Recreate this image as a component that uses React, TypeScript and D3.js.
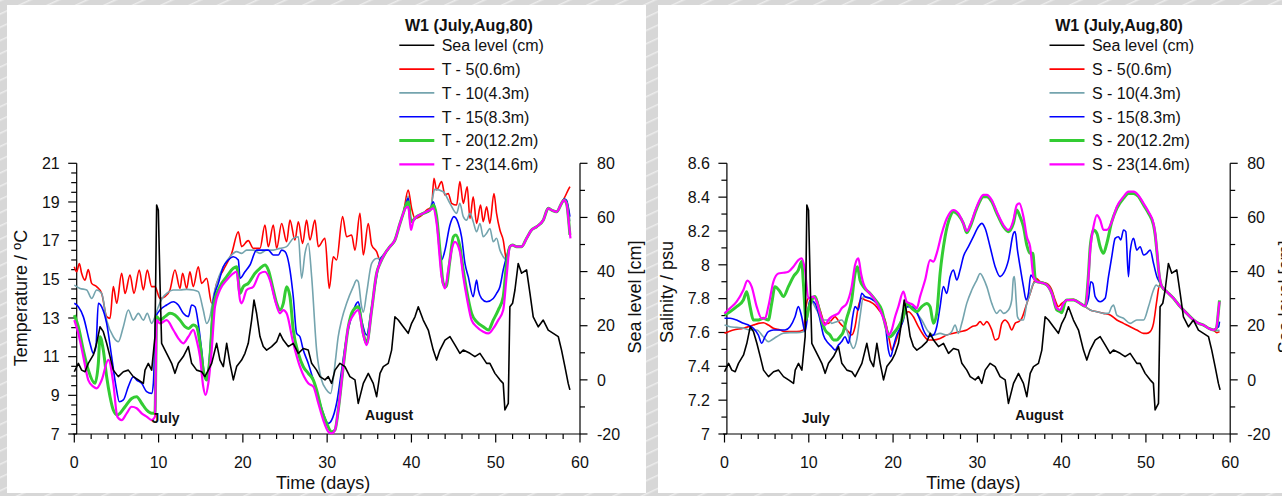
import React from "react";
import * as d3 from "d3";

type Pt = [number, number];

// ---------- axis ticks / labels ----------
const timeTicks = [0, 10, 20, 30, 40, 50, 60];
const timeMinorStep = 2;
const seaLevelTicks = [-20, 0, 20, 40, 60, 80];
const seaLevelMinorStep = 10;
const tempTicks = [7, 9, 11, 13, 15, 17, 19, 21];
const tempMinorStep = 0.5;
const salTicks = [7, 7.2, 7.4, 7.6, 7.8, 8, 8.2, 8.4, 8.6];
const salMinorStep = 0.1;

const legendTitle = "W1 (July,Aug,80)";
const seaLevelLabel = "Sea level (cm)";
const tempLabels = ["T - 5(0.6m)", "T - 10(4.3m)", "T - 15(8.3m)", "T - 20(12.2m)", "T - 23(14.6m)"];
const salLabels = ["S - 5(0.6m)", "S - 10(4.3m)", "S - 15(8.3m)", "S - 20(12.2m)", "S - 23(14.6m)"];
const monthLabels = ["July", "August"];
const monthDays = [9.17, 34.5];

// ---------- data: [day, value] ----------
const seaLevel: Pt[] = [[0,3.0],[0.48,6.1],[0.87,3.6],[1.27,3.0],[1.66,6.1],[2.26,9.2],[2.65,13.5],[3.05,19.6],[3.44,17.8],[3.84,13.5],[4.24,8.6],[4.63,3.6],[5.22,1.2],[5.82,3.0],[6.41,3.6],[7.0,1.2],[7.6,0],[8.19,-1.3],[8.39,3.6],[8.78,6.1],[9.18,3.6],[9.57,16.0],[9.77,64.6],[9.97,62.7],[10.17,35.7],[10.36,13.5],[10.76,11.0],[11.15,8.6],[11.55,6.1],[11.94,2.4],[12.34,6.1],[12.93,8.6],[13.53,12.3],[13.92,6.1],[14.52,3.6],[15.11,3.0],[15.5,1.2],[15.9,3.6],[16.3,6.1],[16.89,13.5],[17.28,7.3],[17.68,4.9],[18.08,13.5],[18.47,6.1],[18.87,0],[19.26,4.9],[19.85,7.3],[20.25,9.8],[20.64,13.5],[21.04,22.1],[21.32,29.5],[21.63,24.6],[22.03,16.0],[22.42,12.3],[22.82,11.0],[23.41,12.3],[24.01,14.1],[24.4,17.2],[24.8,14.7],[25.39,12.3],[25.98,13.5],[26.58,9.8],[27.17,11.6],[27.76,11.0],[28.16,6.1],[28.75,3.6],[29.15,1.2],[29.74,0],[30.13,1.2],[30.53,-1.3],[30.93,3.6],[31.52,6.1],[32.11,4.9],[32.7,1.2],[33.3,0],[33.69,-8.7],[34.29,-1.3],[34.88,2.4],[35.47,-1.3],[35.87,-6.2],[36.27,2.4],[36.66,4.9],[37.25,6.1],[37.65,11.0],[38.04,23.3],[38.44,22.1],[39.03,19.6],[39.62,17.2],[40.02,20.9],[40.42,23.3],[40.81,27.0],[41.4,22.1],[42.0,18.4],[42.59,11.0],[42.99,7.3],[43.38,11.0],[43.98,14.7],[44.57,16.0],[45.16,12.9],[45.75,9.8],[46.15,11.0],[46.94,9.8],[47.53,8.6],[48.13,9.8],[48.92,6.1],[49.31,6.1],[49.91,2.4],[50.5,0],[50.89,-1.3],[51.09,-11.1],[51.49,-8.7],[51.68,27.0],[52.0,28.3],[52.28,33.2],[52.67,43.0],[53.07,39.4],[53.66,40.6],[54.06,32.0],[54.45,23.3],[55.05,19.6],[55.64,22.1],[56.23,18.4],[56.83,17.2],[57.42,16.0],[57.81,11.0],[58.21,4.9],[58.6,-1.3],[58.8,-3.7]];

const tempT5: Pt[] = [[0,15.65],[0.28,15.39],[0.6,15.82],[0.87,15.31],[1.27,14.96],[1.66,15.5],[2.06,14.79],[2.65,14.62],[3.25,14.27],[3.84,13.07],[4.24,12.98],[4.63,14.62],[5.03,13.76],[5.62,15.31],[6.02,14.27],[6.61,15.22],[7.08,14.27],[7.71,15.48],[8.19,14.45],[8.66,15.48],[9.18,14.62],[9.57,14.62],[10.17,14.01],[10.76,14.1],[11.35,14.45],[11.94,15.48],[12.54,14.53],[12.85,15.31],[13.33,14.53],[13.72,15.39],[14.11,14.62],[14.71,15.65],[15.11,14.79],[15.7,15.05],[16.3,13.76],[16.89,14.79],[17.68,15.48],[18.67,16.34],[19.46,17.46],[19.85,16.69],[20.64,17.0],[21.24,16.6],[22.03,16.6],[22.62,17.81],[23.02,16.69],[23.61,17.81],[24.01,16.6],[24.6,17.89],[25.19,16.94],[25.59,18.06],[26.18,17.03],[26.58,17.98],[27.09,16.86],[27.56,18.06],[27.96,17.03],[28.55,18.06],[28.95,16.69],[29.74,17.12],[30.25,14.53],[30.73,16.17],[31.12,16.0],[31.83,18.24],[32.31,17.2],[32.9,17.29],[33.3,16.51],[33.89,18.41],[34.29,16.26],[34.88,17.89],[35.28,16.77],[35.87,16.43],[36.27,16.0],[36.86,16.34],[37.45,16.69],[38.04,17.03],[38.64,17.89],[39.03,18.41],[39.62,19.62],[40.02,18.67],[40.42,18.15],[41.01,18.24],[41.8,18.58],[42.39,18.75],[42.67,20.22],[42.99,19.62],[43.58,20.05],[43.98,19.36],[44.37,19.44],[44.77,18.93],[45.36,18.84],[45.75,20.05],[46.15,18.93],[46.62,19.79],[46.94,18.15],[47.33,19.27],[47.73,17.89],[48.2,18.84],[48.52,17.98],[48.92,18.75],[49.31,17.89],[49.79,19.44],[50.1,18.41],[50.5,17.55],[50.89,17.03],[51.29,16.0],[51.68,16.69],[52.0,16.77],[52.47,16.69],[53.07,16.69],[53.66,17.12],[54.25,17.55],[54.85,17.72],[55.64,18.06],[56.23,18.67],[56.63,18.58],[57.22,18.49],[57.81,18.93],[58.21,19.27],[58.6,19.62],[58.8,19.79]];

const tempT10: Pt[] = [[0,14.7],[0.68,14.53],[1.47,14.45],[2.06,14.01],[2.65,14.45],[3.25,14.27],[3.84,12.89],[4.63,12.03],[5.22,11.77],[5.82,12.55],[6.41,13.41],[7.0,12.89],[7.6,13.24],[8.19,12.89],[8.66,13.24],[9.18,12.72],[9.57,13.07],[9.97,13.58],[10.56,14.1],[10.96,14.27],[11.75,14.45],[12.54,14.45],[13.33,14.48],[14.11,14.45],[14.71,14.36],[15.3,13.41],[15.7,12.72],[16.1,13.07],[16.5,14.1],[16.89,14.79],[17.68,15.65],[18.47,16.17],[19.26,16.43],[19.85,16.34],[20.45,16.51],[21.24,16.51],[22.03,16.34],[22.82,16.51],[23.61,16.51],[24.4,16.6],[25.19,16.69],[25.98,17.12],[26.58,17.2],[26.97,15.05],[27.37,16.34],[27.76,16.86],[28.16,15.14],[28.75,11.34],[29.34,9.79],[29.94,9.28],[30.41,9.1],[30.93,10.6],[31.3,12.0],[31.72,12.9],[32.31,13.76],[33.1,14.62],[33.49,14.96],[33.69,14.88],[34.09,13.58],[34.29,13.3],[34.68,14.27],[35.28,15.82],[35.87,16.08],[36.27,16.08],[36.86,16.34],[37.45,16.69],[38.04,17.03],[38.64,17.89],[39.03,18.41],[39.35,18.9],[39.62,19.3],[39.94,18.1],[40.22,18.06],[40.62,18.24],[41.4,18.41],[42.2,18.58],[42.5,19.2],[42.75,19.65],[43.78,19.53],[44.57,18.93],[45.36,18.41],[45.75,18.93],[46.15,18.24],[46.54,18.06],[46.94,18.41],[47.33,17.98],[47.73,17.46],[48.13,17.89],[48.52,17.2],[48.92,17.38],[49.31,17.63],[49.71,16.94],[50.1,17.12],[50.5,16.51],[50.89,16.17],[51.29,16.0],[51.68,16.69],[52.0,16.77],[52.47,16.69],[53.07,16.69],[53.66,17.12],[54.25,17.55],[54.85,17.72],[55.64,18.06],[56.23,18.67],[56.63,18.58],[57.22,18.49],[57.81,18.93],[58.09,19.15],[58.4,19.0],[58.72,18.3],[58.8,18.0]];

const tempT15: Pt[] = [[0,13.76],[0.48,13.58],[1.07,13.07],[1.86,11.69],[2.26,11.17],[2.57,11.52],[2.85,13.76],[3.25,13.58],[3.84,12.72],[4.43,11.0],[4.95,9.45],[5.34,8.67],[5.82,8.76],[6.41,9.45],[7.0,9.96],[7.4,9.79],[7.99,9.62],[8.58,9.19],[9.18,9.1],[9.38,9.62],[9.69,13.07],[10.17,13.41],[10.96,13.67],[11.75,13.84],[12.34,13.67],[12.93,13.24],[13.53,13.07],[13.92,13.67],[14.32,13.58],[14.71,12.72],[15.11,11.34],[15.5,9.96],[15.78,9.96],[16.1,11.34],[16.5,13.93],[17.09,14.79],[17.68,15.65],[18.27,16.0],[18.87,16.17],[19.46,16.0],[19.66,15.05],[20.25,15.39],[20.84,15.74],[21.63,16.51],[22.42,16.51],[23.02,16.51],[23.61,16.26],[24.21,16.26],[24.6,16.51],[25.0,16.43],[25.59,15.48],[25.98,14.1],[26.38,12.2],[26.77,12.03],[27.17,11.34],[27.76,10.65],[28.36,9.79],[28.95,8.93],[29.54,8.07],[30.13,7.55],[30.53,7.72],[31.12,8.59],[31.72,10.31],[32.31,12.03],[32.9,13.07],[33.49,13.76],[33.69,13.84],[34.09,12.89],[34.68,12.12],[35.28,13.58],[35.87,15.14],[36.27,16.0],[36.86,16.34],[37.45,16.69],[38.04,17.03],[38.64,17.89],[39.03,18.41],[39.35,18.9],[39.62,19.19],[39.94,18.06],[40.22,18.06],[40.62,18.24],[41.4,18.41],[42.2,18.58],[42.59,19.01],[42.99,18.24],[43.58,16.0],[43.98,16.51],[44.57,17.81],[45.04,18.24],[45.56,17.89],[45.95,17.2],[46.35,15.82],[46.74,15.14],[47.33,14.1],[47.73,14.96],[47.93,14.45],[48.32,14.01],[48.92,13.84],[49.71,14.01],[50.1,14.27],[50.5,14.62],[50.89,15.48],[51.29,16.17],[51.68,16.69],[52.0,16.77],[52.47,16.69],[53.07,16.69],[53.66,17.12],[54.25,17.55],[54.85,17.72],[55.64,18.06],[56.23,18.67],[56.63,18.58],[57.22,18.49],[57.81,18.93],[58.09,19.15],[58.4,19.1],[58.8,18.24]];

const tempT20: Pt[] = [[0,13.15],[0.48,12.55],[1.07,11.34],[1.66,10.31],[2.45,9.62],[2.85,10.65],[3.05,12.03],[3.44,11.34],[3.84,9.96],[4.24,8.93],[4.63,8.24],[5.1,7.98],[5.42,8.07],[6.02,8.41],[6.81,8.84],[7.4,8.93],[7.99,8.59],[8.58,8.24],[9.18,8.07],[9.57,8.07],[9.77,13.07],[10.17,12.89],[10.76,13.07],[11.35,13.24],[11.94,13.15],[12.54,12.89],[13.13,12.55],[13.53,12.46],[14.12,12.64],[14.51,12.55],[14.91,11.69],[15.3,10.31],[15.7,9.79],[16.1,11.0],[16.5,13.58],[17.28,14.62],[18.08,15.14],[18.87,15.57],[19.26,15.65],[19.66,14.27],[20.05,14.62],[20.64,14.79],[21.44,15.31],[22.03,15.57],[22.62,15.74],[23.02,15.48],[23.61,14.45],[24.01,13.76],[24.4,13.41],[24.8,13.76],[25.19,14.62],[25.59,14.1],[25.98,12.38],[26.58,11.17],[27.17,10.48],[27.76,10.14],[28.36,9.79],[28.75,9.28],[29.34,8.24],[29.94,7.55],[30.53,7.12],[30.93,7.21],[31.32,8.24],[31.91,10.48],[32.51,12.55],[33.1,13.41],[33.69,13.58],[34.29,12.2],[34.68,11.69],[35.28,13.41],[35.87,15.31],[36.27,15.82],[36.86,16.34],[37.45,16.69],[38.04,17.03],[38.64,17.89],[39.03,18.41],[39.35,18.84],[39.62,19.0],[39.94,17.98],[40.22,18.06],[40.62,18.24],[41.4,18.41],[42.2,18.58],[42.59,18.84],[42.99,18.24],[43.38,16.51],[43.78,14.79],[44.1,14.62],[44.57,16.0],[44.97,17.2],[45.28,17.29],[45.75,16.69],[46.15,15.48],[46.54,14.45],[47.14,13.24],[47.73,12.81],[48.52,12.55],[49.12,12.38],[49.71,12.89],[50.3,13.41],[50.89,14.1],[51.29,15.82],[51.68,16.69],[52.0,16.77],[52.47,16.69],[53.07,16.69],[53.66,17.12],[54.25,17.55],[54.85,17.72],[55.64,18.06],[56.23,18.67],[56.63,18.58],[57.22,18.49],[57.81,18.93],[58.09,19.1],[58.4,18.93],[58.72,17.72],[58.8,17.3]];

const tempT23: Pt[] = [[0,12.89],[0.48,12.2],[1.07,11.0],[1.66,9.79],[2.26,9.45],[2.65,9.36],[3.25,9.79],[4.04,10.83],[4.63,9.62],[5.1,7.9],[5.62,7.72],[6.21,8.07],[6.81,8.41],[7.4,8.33],[7.99,8.07],[8.58,7.9],[9.18,7.72],[9.57,7.9],[9.77,12.89],[10.17,12.72],[10.96,12.89],[11.75,12.38],[12.34,11.95],[12.93,11.69],[13.53,12.03],[14.12,12.38],[14.51,11.86],[14.91,11.0],[15.3,9.45],[15.58,9.02],[15.9,9.62],[16.3,11.34],[16.69,13.58],[17.28,14.45],[18.08,14.96],[18.87,15.31],[19.26,15.39],[19.66,13.93],[19.85,13.76],[20.45,14.45],[21.24,14.62],[22.03,15.31],[22.62,15.39],[23.21,14.96],[23.81,13.93],[24.4,13.24],[24.8,13.41],[25.19,13.24],[25.98,11.69],[26.77,10.48],[27.76,9.62],[28.36,9.45],[28.95,8.59],[29.54,7.72],[30.13,7.12],[30.53,7.03],[30.93,7.21],[31.32,8.24],[31.91,10.48],[32.51,12.55],[33.1,13.15],[33.69,13.41],[34.29,12.12],[34.68,11.6],[35.28,13.41],[35.87,15.31],[36.27,15.82],[36.86,16.34],[37.45,16.69],[38.04,17.03],[38.64,17.89],[39.03,18.41],[39.35,18.7],[39.62,18.75],[39.94,17.55],[40.22,18.0],[40.62,18.24],[41.4,18.41],[42.2,18.58],[42.59,18.67],[42.99,17.89],[43.58,15.14],[43.98,14.53],[44.37,15.48],[44.77,16.51],[45.16,16.94],[45.75,16.43],[46.15,15.14],[46.62,13.93],[47.14,12.89],[47.73,12.55],[48.52,12.29],[49.12,12.2],[49.71,12.46],[50.3,12.89],[50.89,13.41],[51.29,15.14],[51.68,16.69],[52.0,16.77],[52.47,16.69],[53.07,16.69],[53.66,17.12],[54.25,17.55],[54.85,17.72],[55.64,18.06],[56.23,18.67],[56.63,18.58],[57.22,18.49],[57.81,18.93],[58.09,19.1],[58.4,18.93],[58.72,17.72],[58.87,17.12]];

const salS5: Pt[] = [[0,7.595],[1.05,7.615],[2.24,7.625],[3.42,7.644],[4.02,7.654],[4.61,7.658],[5.2,7.644],[5.8,7.625],[6.59,7.615],[7.18,7.605],[7.77,7.605],[8.57,7.605],[9.36,7.615],[9.67,7.753],[9.95,7.802],[10.74,7.812],[11.34,7.733],[11.93,7.654],[12.32,7.654],[12.72,7.674],[13.12,7.693],[13.31,7.684],[13.71,7.654],[14.1,7.634],[14.7,7.605],[15.09,7.585],[15.49,7.634],[15.88,7.753],[16.28,7.802],[16.68,7.792],[17.27,7.782],[17.86,7.762],[18.46,7.723],[19.05,7.674],[19.64,7.536],[19.84,7.496],[20.24,7.536],[20.63,7.595],[21.03,7.654],[21.42,7.713],[21.82,7.723],[22.41,7.693],[23.0,7.634],[23.6,7.585],[24.19,7.556],[24.79,7.556],[25.58,7.565],[26.37,7.585],[27.16,7.595],[27.95,7.605],[28.74,7.615],[29.34,7.634],[29.93,7.644],[30.33,7.664],[30.72,7.644],[31.12,7.664],[31.71,7.615],[32.11,7.556],[32.5,7.565],[32.9,7.654],[33.29,7.674],[33.69,7.654],[34.08,7.615],[34.48,7.654],[34.88,7.664],[35.27,7.684],[35.87,7.772],[36.26,7.831],[36.66,7.89],[36.97,7.92],[37.45,7.9],[38.24,7.89],[38.84,7.851],[39.23,7.792],[39.62,7.753],[40.02,7.772],[40.62,7.792],[41.42,7.796],[42.2,7.772],[42.79,7.753],[43.39,7.733],[44.18,7.723],[44.97,7.713],[45.76,7.703],[46.55,7.674],[47.34,7.654],[48.13,7.634],[48.92,7.615],[49.72,7.595],[50.11,7.595],[50.51,7.605],[50.9,7.654],[51.3,7.792],[51.61,7.881],[51.89,7.871],[52.48,7.841],[53.27,7.802],[54.06,7.753],[54.85,7.713],[55.65,7.674],[56.24,7.654],[56.83,7.644],[57.43,7.625],[58.02,7.615],[58.42,7.599],[58.73,7.605]];

const salS10: Pt[] = [[0,7.644],[0.65,7.634],[1.44,7.63],[2.24,7.625],[3.03,7.615],[3.82,7.615],[4.61,7.575],[5.2,7.546],[5.6,7.556],[6.19,7.575],[6.98,7.595],[7.77,7.599],[8.57,7.599],[9.36,7.605],[9.76,7.693],[10.15,7.792],[10.94,7.733],[11.73,7.674],[12.32,7.674],[12.72,7.654],[13.31,7.664],[13.91,7.674],[14.5,7.615],[14.9,7.546],[15.29,7.506],[15.69,7.556],[16.08,7.693],[16.48,7.812],[17.27,7.802],[18.06,7.772],[18.65,7.713],[19.05,7.654],[19.45,7.575],[19.84,7.575],[20.44,7.615],[20.83,7.654],[21.22,7.733],[21.82,7.753],[22.41,7.753],[23.0,7.703],[23.4,7.674],[24.19,7.605],[24.79,7.585],[25.58,7.595],[26.37,7.585],[26.96,7.605],[27.36,7.644],[27.75,7.595],[28.15,7.654],[28.74,7.772],[29.34,7.851],[29.93,7.91],[30.33,7.949],[30.72,7.92],[31.12,7.871],[31.71,7.772],[32.31,7.713],[32.7,7.733],[33.1,7.713],[33.69,7.733],[34.08,7.792],[34.28,7.92],[34.4,7.93],[34.6,7.792],[34.76,7.693],[35.07,7.674],[35.47,7.674],[35.87,7.772],[36.26,7.831],[36.66,7.89],[37.05,7.9],[37.65,7.894],[38.24,7.881],[38.84,7.831],[39.43,7.743],[39.83,7.733],[40.22,7.772],[40.62,7.792],[41.42,7.792],[42.2,7.772],[42.79,7.753],[43.39,7.733],[44.18,7.723],[44.97,7.713],[45.56,7.713],[45.95,7.753],[46.15,7.762],[46.55,7.703],[47.34,7.684],[48.13,7.654],[48.92,7.674],[49.72,7.674],[50.31,7.753],[50.9,7.851],[51.22,7.881],[51.49,7.871],[51.89,7.871],[52.48,7.841],[53.27,7.802],[54.06,7.753],[54.85,7.713],[55.65,7.674],[56.24,7.654],[56.83,7.644],[57.43,7.625],[58.02,7.615],[58.42,7.61],[58.73,7.615]];

const salS15: Pt[] = [[0,7.684],[0.65,7.684],[1.44,7.674],[2.24,7.654],[2.83,7.644],[3.42,7.625],[4.02,7.585],[4.41,7.536],[4.81,7.575],[5.2,7.605],[5.8,7.615],[6.39,7.615],[7.18,7.615],[7.77,7.634],[8.37,7.693],[8.76,7.753],[9.16,7.693],[9.55,7.605],[10.15,7.792],[10.74,7.772],[11.34,7.674],[11.73,7.585],[12.32,7.536],[12.72,7.516],[13.12,7.496],[13.51,7.526],[13.91,7.546],[14.3,7.575],[14.7,7.536],[14.9,7.575],[15.21,7.693],[15.49,7.753],[15.88,7.733],[16.28,7.831],[16.68,7.812],[17.27,7.802],[18.06,7.772],[18.65,7.713],[19.05,7.654],[19.45,7.496],[19.72,7.457],[20.04,7.516],[20.44,7.585],[20.83,7.625],[21.22,7.674],[21.62,7.753],[22.02,7.753],[22.61,7.733],[23.2,7.674],[23.6,7.615],[24.19,7.575],[24.79,7.585],[25.18,7.634],[25.58,7.753],[25.97,7.871],[26.37,7.831],[26.77,7.93],[27.16,7.969],[27.56,7.91],[27.95,7.969],[28.34,8.048],[28.94,8.107],[29.53,8.166],[30.12,8.225],[30.52,8.245],[30.92,8.216],[31.51,8.107],[32.11,7.989],[32.7,7.93],[33.1,7.949],[33.69,8.028],[34.28,8.186],[34.48,8.196],[34.76,8.087],[35.07,7.989],[35.47,7.871],[35.79,7.792],[36.06,7.831],[36.34,7.94],[36.66,7.92],[37.05,7.9],[37.65,7.894],[38.24,7.881],[38.84,7.831],[39.43,7.743],[39.83,7.733],[40.22,7.772],[40.62,7.792],[41.42,7.792],[42.2,7.772],[42.79,7.756],[43.19,7.802],[43.46,7.9],[43.7,7.89],[43.98,7.812],[44.57,7.782],[45.16,7.802],[45.56,7.93],[45.95,8.048],[46.35,8.156],[46.74,8.166],[47.02,8.147],[47.34,8.206],[47.61,8.196],[47.93,7.93],[48.13,8.078],[48.53,8.156],[48.92,8.087],[49.32,8.107],[49.72,8.058],[50.11,8.068],[50.51,8.087],[50.9,8.009],[51.3,7.93],[51.69,7.89],[51.89,7.871],[52.48,7.841],[53.27,7.802],[54.06,7.753],[54.85,7.713],[55.65,7.674],[56.24,7.654],[56.83,7.644],[57.43,7.625],[58.02,7.615],[58.34,7.625],[58.62,7.634],[58.73,7.664]];

const salS20: Pt[] = [[0,7.703],[0.65,7.723],[1.44,7.753],[2.24,7.792],[2.63,7.841],[3.03,7.753],[3.42,7.674],[4.02,7.674],[4.61,7.684],[5.2,7.674],[5.6,7.772],[5.99,7.871],[6.59,7.841],[6.98,7.812],[7.58,7.871],[8.17,7.93],[8.76,7.969],[9.16,8.019],[9.36,7.89],[9.67,7.674],[9.95,7.733],[10.35,7.792],[10.74,7.812],[11.14,7.753],[11.53,7.674],[11.93,7.615],[12.52,7.585],[12.92,7.556],[13.31,7.556],[13.71,7.575],[14.1,7.605],[14.5,7.684],[15.09,7.792],[15.49,7.949],[15.77,7.989],[16.08,7.91],[16.48,7.871],[17.27,7.831],[18.06,7.782],[18.65,7.733],[19.24,7.615],[19.64,7.575],[20.04,7.595],[20.63,7.634],[21.22,7.693],[21.62,7.772],[22.22,7.743],[22.81,7.723],[23.4,7.753],[23.99,7.772],[24.39,7.753],[24.79,7.654],[25.18,7.713],[25.58,7.949],[26.17,8.166],[26.77,8.284],[27.16,8.314],[27.75,8.294],[28.34,8.245],[28.75,8.19],[29.14,8.225],[29.93,8.334],[30.72,8.403],[31.12,8.403],[31.71,8.373],[32.31,8.304],[33.1,8.225],[33.69,8.196],[34.28,8.245],[34.67,8.324],[35.07,8.284],[35.47,8.225],[35.87,8.117],[36.26,8.068],[36.58,8.068],[36.86,7.92],[37.05,7.9],[37.65,7.894],[38.24,7.881],[38.84,7.831],[39.43,7.733],[39.83,7.723],[40.02,7.717],[40.42,7.782],[40.62,7.792],[41.42,7.792],[42.2,7.772],[42.79,7.756],[43.19,7.949],[43.39,8.107],[43.78,8.206],[44.18,8.186],[44.57,8.107],[44.97,8.068],[45.36,8.127],[45.95,8.255],[46.55,8.334],[47.34,8.393],[47.93,8.422],[48.53,8.422],[49.12,8.403],[49.72,8.353],[50.31,8.304],[50.9,8.235],[51.1,8.176],[51.3,8.078],[51.57,7.94],[51.89,7.871],[52.48,7.841],[53.27,7.802],[54.06,7.753],[54.85,7.713],[55.65,7.674],[56.24,7.654],[56.83,7.644],[57.43,7.625],[58.02,7.615],[58.34,7.62],[58.62,7.733],[58.73,7.79]];

const salS23: Pt[] = [[0,7.713],[0.65,7.743],[1.44,7.782],[2.24,7.851],[2.71,7.906],[3.22,7.871],[3.82,7.753],[4.41,7.684],[4.81,7.684],[5.2,7.753],[5.8,7.9],[6.39,7.949],[6.98,7.953],[7.58,7.959],[8.17,7.989],[8.76,8.028],[9.16,8.038],[9.55,7.969],[9.95,7.802],[10.54,7.812],[10.94,7.782],[11.34,7.713],[11.93,7.644],[12.32,7.674],[12.72,7.693],[13.12,7.703],[13.51,7.713],[13.91,7.743],[14.5,7.772],[15.09,7.871],[15.49,7.999],[15.88,8.038],[16.2,7.949],[16.48,7.89],[16.87,7.851],[17.27,7.831],[17.86,7.792],[18.46,7.733],[19.05,7.654],[19.45,7.585],[19.84,7.615],[20.24,7.693],[20.63,7.753],[21.22,7.841],[21.62,7.782],[22.02,7.772],[22.41,7.762],[22.81,7.743],[23.2,7.812],[23.8,7.91],[24.39,8.028],[24.79,8.019],[25.18,8.068],[25.78,8.186],[26.37,8.274],[27.16,8.324],[27.75,8.304],[28.34,8.245],[28.75,8.2],[29.14,8.235],[29.93,8.344],[30.72,8.413],[31.12,8.413],[31.71,8.383],[32.31,8.314],[33.1,8.235],[33.69,8.206],[34.28,8.265],[34.67,8.353],[34.99,8.363],[35.47,8.284],[35.87,8.166],[36.26,8.107],[36.66,7.93],[37.05,7.9],[37.65,7.894],[38.24,7.881],[38.84,7.831],[39.43,7.743],[39.83,7.733],[40.22,7.772],[40.62,7.792],[41.42,7.792],[42.2,7.772],[42.79,7.756],[43.19,7.93],[43.39,8.087],[43.78,8.225],[44.18,8.294],[44.57,8.265],[44.97,8.206],[45.36,8.206],[45.95,8.255],[46.55,8.344],[47.34,8.403],[47.93,8.432],[48.53,8.432],[49.12,8.41],[49.72,8.363],[50.31,8.314],[50.9,8.245],[51.1,8.186],[51.3,8.087],[51.57,7.949],[51.89,7.871],[52.48,7.841],[53.27,7.802],[54.06,7.753],[54.85,7.713],[55.65,7.674],[56.24,7.654],[56.83,7.644],[57.43,7.625],[58.02,7.615],[58.34,7.625],[58.62,7.733],[58.73,7.782]];

// ---------- styles ----------
const seriesColors = ["#ff0000", "#74a4ae", "#0000ff", "#33cc33", "#ff00ff"];
const seriesWidths = [1.6, 1.6, 1.6, 3, 2.2];
const FONT = "Arial, 'Liberation Sans', Helvetica, sans-serif";

const PLOT_LEFT = 74.3;
const PLOT_RIGHT = 580;
const PLOT_TOP = 163.3;
const PLOT_BOTTOM = 434;

function minorValues(lo: number, hi: number, step: number): number[] {
  const n = Math.round((hi - lo) / step);
  return d3.range(n + 1).map((i) => +(lo + i * step).toFixed(6));
}

interface PanelProps {
  dx: number;
  yDomain: [number, number];
  yTicks: number[];
  yMinorStep: number;
  yTitle: React.ReactNode;
  yTitleX: number;
  yTitleY: number;
  series: Pt[][];
  labels: string[];
}

function Panel({ dx, yDomain, yTicks, yMinorStep, yTitle, yTitleX, yTitleY, series, labels }: PanelProps) {
  const x = d3.scaleLinear().domain([0, 60]).range([PLOT_LEFT + dx, PLOT_RIGHT + dx]);
  const y = d3.scaleLinear().domain(yDomain).range([PLOT_BOTTOM, PLOT_TOP]);
  const yr = d3.scaleLinear().domain([-20, 80]).range([PLOT_BOTTOM, PLOT_TOP]);
  const axisX = x(0) + 2.4;
  const right = x(60);
  const lineY = d3.line<Pt>().x((d) => x(d[0])).y((d) => y(d[1])).curve(d3.curveMonotoneX);
  const lineSL = d3.line<Pt>().x((d) => x(d[0])).y((d) => yr(d[1]));

  const xMinor = minorValues(0, 60, timeMinorStep);
  const yMinor = minorValues(yDomain[0], yDomain[1], yMinorStep);
  const rMinor = minorValues(-20, 80, seaLevelMinorStep);

  const legX = 399.3 + dx;
  const legRows = [seaLevelLabel, ...labels];
  const legColors = ["#000000", ...seriesColors];
  const legWidths = [1.6, ...seriesWidths];

  return (
    <g fontFamily={FONT}>
      {/* axes lines */}
      <line x1={x(0) - 1.5} x2={right} y1={PLOT_BOTTOM} y2={PLOT_BOTTOM} stroke="#000" strokeWidth={1.2} />
      <line x1={axisX} x2={axisX} y1={PLOT_TOP} y2={PLOT_BOTTOM} stroke="#000" strokeWidth={1.2} />
      <line x1={right} x2={right} y1={PLOT_TOP} y2={PLOT_BOTTOM} stroke="#000" strokeWidth={1.2} />

      {/* x ticks */}
      {xMinor.map((t) => (
        <line key={"xm" + t} x1={x(t)} x2={x(t)} y1={PLOT_BOTTOM} y2={PLOT_BOTTOM + (timeTicks.includes(t) ? 8.5 : 5)} stroke="#000" strokeWidth={1.2} />
      ))}
      {timeTicks.map((t) => (
        <text key={"xl" + t} x={x(t)} y={467.5} fontSize={16} textAnchor="middle" fill="#111">{t}</text>
      ))}
      <text x={(x(0) + right) / 2 - 4} y={489} fontSize={18} textAnchor="middle" fill="#111">Time (days)</text>

      {/* left y ticks */}
      {yMinor.map((v) => (
        <line key={"ym" + v} x1={axisX - (yTicks.some((t) => Math.abs(t - v) < 1e-6) ? 8.5 : 5.5)} x2={axisX} y1={y(v)} y2={y(v)} stroke="#000" strokeWidth={1.2} />
      ))}
      {yTicks.map((v) => (
        <text key={"yl" + v} x={axisX - 17} y={y(v)} dy="0.36em" fontSize={16} textAnchor="end" fill="#111">{String(v)}</text>
      ))}
      <text transform={`translate(${yTitleX},${yTitleY}) rotate(-90)`} fontSize={18} textAnchor="middle" fill="#111">{yTitle}</text>

      {/* right y ticks */}
      {rMinor.map((v) => (
        <line key={"rm" + v} x1={right} x2={right + (seaLevelTicks.includes(v) ? 7.5 : 5)} y1={yr(v)} y2={yr(v)} stroke="#000" strokeWidth={1.2} />
      ))}
      {seaLevelTicks.map((v) => (
        <text key={"rl" + v} x={right + 17} y={yr(v)} dy="0.36em" fontSize={16} textAnchor="start" fill="#111">{v}</text>
      ))}
      <text transform={`translate(${right + 61},${297}) rotate(-90)`} fontSize={18} textAnchor="middle" fill="#111">Sea level [cm]</text>

      {/* series */}
      {series.map((s, i) => (
        <path key={"s" + i} d={lineY(s) || ""} fill="none" stroke={seriesColors[i]} strokeWidth={seriesWidths[i]} strokeLinejoin="round" />
      ))}
      <path d={lineSL(seaLevel) || ""} fill="none" stroke="#000" strokeWidth={1.6} strokeLinejoin="round" />

      {/* month annotations */}
      <text x={x(monthDays[0])} y={PLOT_BOTTOM - 11} fontSize={14} fontWeight="bold" fill="#111">{monthLabels[0]}</text>
      <text x={x(monthDays[1])} y={PLOT_BOTTOM - 14} fontSize={14} fontWeight="bold" fill="#111">{monthLabels[1]}</text>

      {/* legend */}
      <text x={legX + 5.7} y={31} fontSize={16} fontWeight="bold" fill="#111">{legendTitle}</text>
      {legRows.map((lab, i) => {
        const cy = 45.3 + i * 23.8;
        return (
          <g key={"lg" + i}>
            <line x1={legX} x2={legX + 35} y1={cy} y2={cy} stroke={legColors[i]} strokeWidth={legWidths[i]} />
            <text x={legX + 42.4} y={cy + 5.8} fontSize={16} fill="#111">{lab}</text>
          </g>
        );
      })}
    </g>
  );
}

export default function App() {
  const W = 1282;
  const H = 496;
  return (
    <div style={{ position: "absolute", left: 0, top: 0, width: W, height: H }}>
      <svg width={W} height={H} viewBox={`0 0 ${W} ${H}`} style={{ display: "block" }}>
        <defs>
          <pattern id="bgp" width="12" height="12" patternUnits="userSpaceOnUse" patternTransform="rotate(65)">
            <rect width="12" height="12" fill="#d7d7d7" />
            <line x1="0" y1="0" x2="0" y2="12" stroke="#ececec" strokeWidth="3" />
          </pattern>
        </defs>
        <rect x={0} y={0} width={W} height={H} fill="url(#bgp)" />
        <rect x={7} y={5} width={639} height={488} fill="#ffffff" />
        <rect x={658} y={5} width={W - 658} height={488} fill="#ffffff" />
        <Panel
          dx={0}
          yDomain={[7, 21]}
          yTicks={tempTicks}
          yMinorStep={tempMinorStep}
          yTitle={<>
            Temperature / <tspan dy="-6" fontSize={13}>o</tspan><tspan dy="6">C</tspan>
          </>}
          yTitleX={27}
          yTitleY={298}
          series={[tempT5, tempT10, tempT15, tempT20, tempT23]}
          labels={tempLabels}
        />
        <Panel
          dx={650.2}
          yDomain={[7, 8.6]}
          yTicks={salTicks}
          yMinorStep={salMinorStep}
          yTitle={"Salinity / psu"}
          yTitleX={673}
          yTitleY={292}
          series={[salS5, salS10, salS15, salS20, salS23]}
          labels={salLabels}
        />
      </svg>
    </div>
  );
}
